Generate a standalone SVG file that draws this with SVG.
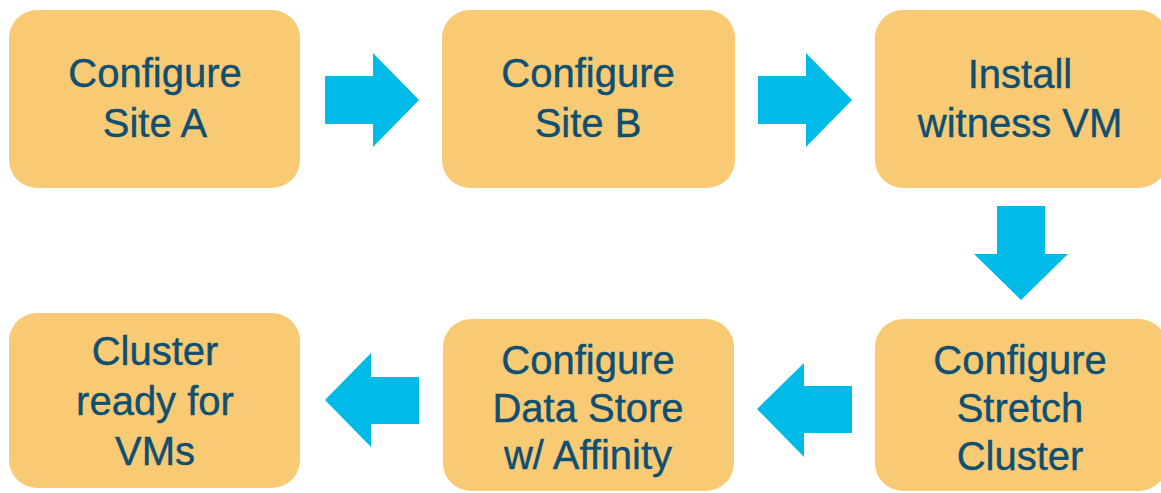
<svg xmlns="http://www.w3.org/2000/svg" width="1161" height="493" viewBox="0 0 1161 493">
<style>
.box{fill:#F9CA74}
.lbl{font-family:"Liberation Sans",Arial,sans-serif;font-size:40px;fill:#0E4F72;stroke:#0E4F72;stroke-width:0.4;text-anchor:middle}
.arr{fill:#00BBE8}
</style>
<rect width="1161" height="493" fill="#fff"/>
<g id="n1"><rect class="box" x="9" y="10" width="291" height="178" rx="28"/><text class="lbl" x="155" y="87">Configure</text><text class="lbl" x="155" y="137">Site A</text></g>
<g id="n2"><rect class="box" x="442" y="10" width="293" height="178" rx="28"/><text class="lbl" x="588" y="87">Configure</text><text class="lbl" x="588" y="137">Site B</text></g>
<g id="n3"><rect class="box" x="875" y="10" width="292" height="178" rx="28"/><text class="lbl" x="1020" y="88">Install</text><text class="lbl" x="1020" y="137">witness VM</text></g>
<g id="n4"><rect class="box" x="9" y="313" width="291" height="175" rx="28"/><text class="lbl" x="155" y="365">Cluster</text><text class="lbl" x="155" y="415">ready for</text><text class="lbl" x="155" y="465">VMs</text></g>
<g id="n5"><rect class="box" x="443" y="319" width="291" height="172" rx="28"/><text class="lbl" x="588" y="374">Configure</text><text class="lbl" x="588" y="422">Data Store</text><text class="lbl" x="588" y="469">w/ Affinity</text></g>
<g id="n6"><rect class="box" x="875" y="319" width="292" height="172" rx="28"/><text class="lbl" x="1020" y="374">Configure</text><text class="lbl" x="1020" y="422">Stretch</text><text class="lbl" x="1020" y="470">Cluster</text></g>
<g id="connectors">
<polygon class="arr" points="325,76 373,76 373,53 419,100 373,147 373,124 325,124"/>
<polygon class="arr" points="758,76 806,76 806,53 852,100 806,147 806,124 758,124"/>
<polygon class="arr" points="997,206 1045,206 1045,254 1068,254 1021,300 974,254 997,254"/>
<polygon class="arr" points="852,386 804,386 804,363 757,409 804,457 804,433 852,433"/>
<polygon class="arr" points="419,377 371,377 371,353 325,400 371,447 371,424 419,424"/>
</g>
</svg>
